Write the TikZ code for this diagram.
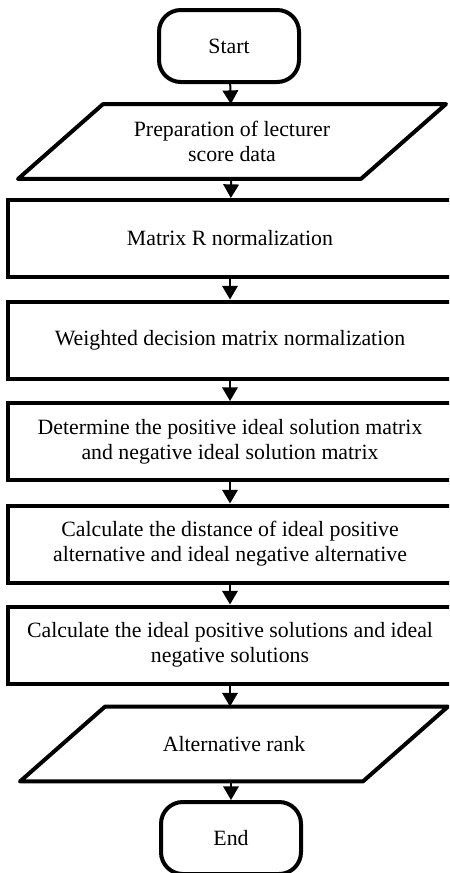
\documentclass[tikz,border=0pt]{standalone}
\usepackage{fontspec}
\setmainfont{Liberation Serif}
\usetikzlibrary{arrows.meta}

\begin{document}
\begin{tikzpicture}[x=0.55pt, y=-0.55pt,
    every node/.style={font=\fontsize{12}{13.8}\selectfont, align=center},
    terminal/.style={draw, line width=2.2pt, rounded corners=12pt, minimum width=77pt, minimum height=39.6pt},
    process/.style={draw, line width=2.2pt, minimum width=244.2pt, minimum height=42.35pt},
    io/.style={minimum width=186.4pt, minimum height=39pt, outer sep=1.1pt, inner sep=0pt},
    ioline/.style={line width=2.2pt, line join=round},
    flow/.style={line width=1.1pt, -{Triangle[width=8.5pt, length=7.5pt]}}]
        \useasboundingbox (0,0) rectangle (449,873);
        \clip (0,0) rectangle (449,873);

        % --- Draw terminals ---
        \node[terminal] (start) at (229,46) {Start};
        \node[terminal] (end) at (231,838) {End};
        % ---

        % --- Draw input / output blocks ---
        \node[io] (prep) at (232,141.5) {Preparation of lecturer\\score data};
        \draw[ioline] ([xshift=-23.4pt]prep.south west) -- ([xshift=23.4pt]prep.north west)
            -- ([xshift=23.4pt]prep.north east) -- ([xshift=-23.4pt]prep.south east) -- cycle;
        \node[io] (rank) at (234,744) {Alternative rank};
        \draw[ioline] ([xshift=-23.4pt]rank.south west) -- ([xshift=23.4pt]rank.north west)
            -- ([xshift=23.4pt]rank.north east) -- ([xshift=-23.4pt]rank.south east) -- cycle;
        % ---

        % --- Draw process blocks ---
        \node[process] (norm) at (230,238.5) {Matrix R normalization};
        \node[process] (weight) at (230,340) {Weighted decision matrix normalization};
        \node[process] (ideal) at (230,441.5) {Determine the positive ideal solution matrix\\and negative ideal solution matrix};
        \node[process] (dist) at (230,544) {Calculate the distance of ideal positive\\alternative and ideal negative alternative};
        \node[process] (pref) at (230,645) {Calculate the ideal positive solutions and ideal\\negative solutions};
        % ---

        % --- Draw arrows ---
        \draw[flow] (start) -- (prep);
        \draw[flow] (prep) -- (norm);
        \draw[flow] (norm) -- (weight);
        \draw[flow] (weight) -- (ideal);
        \draw[flow] (ideal) -- (dist);
        \draw[flow] (dist) -- (pref);
        \draw[flow] (pref.south) -- (pref.south |- rank.north);
        \draw[flow] (rank.south -| end.north) -- (end);
        % ---
    \end{tikzpicture}
\end{document}
